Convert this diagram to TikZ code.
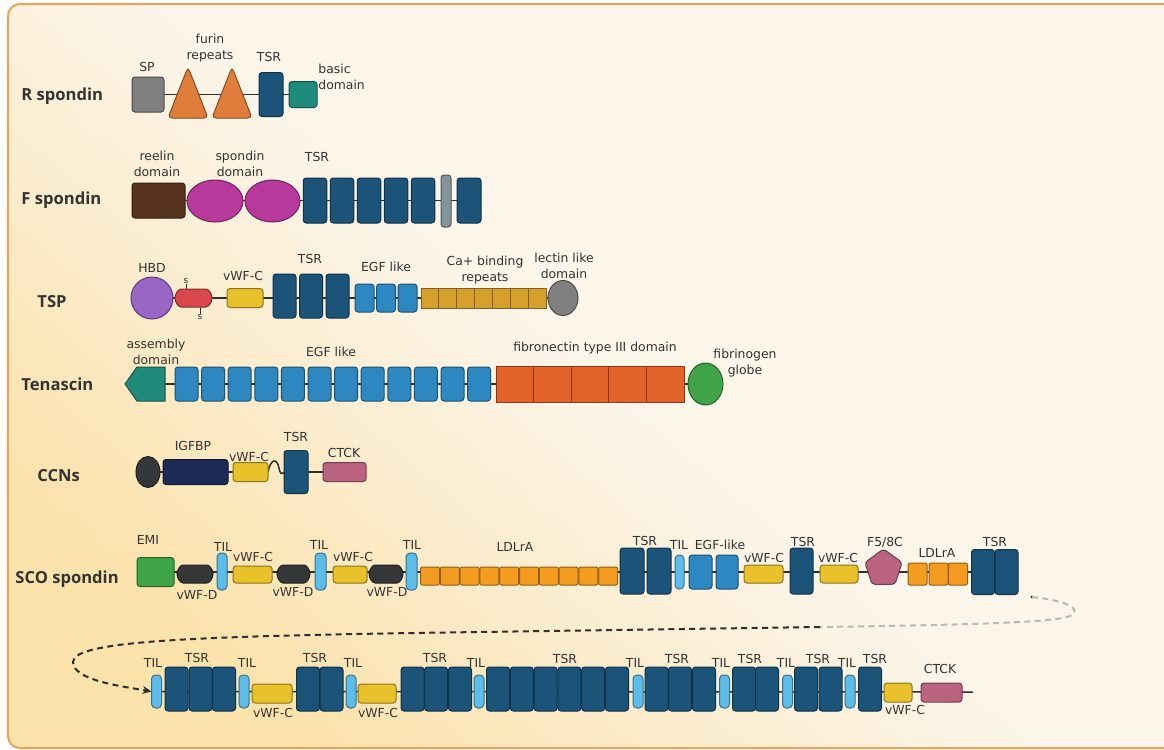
\documentclass[tikz,border=0pt]{standalone}
\usepackage{fontspec}
\newfontfamily\labfont{DejaVu Sans}
\newfontfamily\rowfont{Open Sans}
\usetikzlibrary{shapes.geometric,shapes.misc,shapes.symbols,arrows.meta}
\pgfdeclarelayer{back}
\pgfdeclarelayer{bg}
\pgfsetlayers{back,bg,main}

\definecolor{txt}{HTML}{333333}
\definecolor{bbgray}{HTML}{2E2E2E}
\definecolor{tsrblue}{HTML}{1B5478}
\definecolor{egfblue}{HTML}{2D87C0}
\definecolor{tilblue}{HTML}{5CBDEB}
\definecolor{vwfyellow}{HTML}{E9C22B}
\definecolor{vwfdark}{HTML}{343638}
\definecolor{ldlorange}{HTML}{F39C1F}
\definecolor{fnorange}{HTML}{E4632A}
\definecolor{furinorange}{HTML}{E07D3A}
\definecolor{spgray}{HTML}{7F7F7F}
\definecolor{dteal}{HTML}{1F8B7B}
\definecolor{reelinbrown}{HTML}{57321E}
\definecolor{spmagenta}{HTML}{B8399C}
\definecolor{barslate}{HTML}{85949A}
\definecolor{hbdpurple}{HTML}{9A66C6}
\definecolor{pillred}{HTML}{D8474B}
\definecolor{cagold}{HTML}{D5A02B}
\definecolor{lectingray}{HTML}{808080}
\definecolor{globegreen}{HTML}{3FA447}
\definecolor{igfnavy}{HTML}{1C2B55}
\definecolor{ctckpink}{HTML}{BA6482}
\definecolor{framebg}{HTML}{FBF5EA}
\definecolor{framewarm}{HTML}{FCE2AB}
\definecolor{frameline}{HTML}{EBA35C}

\begin{document}
\begin{tikzpicture}[x=0.5pt, y=-0.5pt,
    dom/.style={draw=#1!60!black, fill=#1, line width=0.5pt, rounded corners=1.5pt, inner sep=0pt, outer sep=0pt},
    sz/.style 2 args={minimum width=#1*0.5pt, minimum height=#2*0.5pt},
    tsr/.style={dom=tsrblue},
    egf/.style={dom=egfblue},
    til/.style={dom=tilblue, rounded corners=2pt},
    vwfc/.style={dom=vwfyellow},
    vwfd/.style={dom=vwfdark, rounded rectangle},
    ldl/.style={dom=ldlorange, rounded corners=1pt},
    furin/.style={draw=furinorange!60!black, fill=furinorange, line width=0.5pt, rounded corners=2pt},
    lab/.style={font=\labfont\fontsize{6.2}{8}\selectfont, text=txt, inner sep=0pt, align=center},
    row/.style={font=\rowfont\bfseries\fontsize{8.3}{10}\selectfont, text=txt, anchor=base west, inner sep=0pt},
    backbone/.style={draw=bbgray, line width=0.75pt},
    flow/.style={line width=1pt, dash pattern=on 3pt off 2.2pt}]

    \useasboundingbox (0,0) rectangle (1164,750);

    % Frame
    \begin{pgfonlayer}{back}
        \fill[white] (0,0) rectangle (1164,750);
        \shade[rounded corners=6pt, top color=framebg, bottom color=framewarm, middle color=framebg, shading angle=-40] (8,4) rectangle (1190,748);
        \draw[frameline, line width=1pt, rounded corners=6pt] (8,4) rectangle (1190,748);
    \end{pgfonlayer}

    % R spondin
    \node[row] (nR) at (21,100) {R spondin};
    \node[dom=spgray, sz={32}{35}] (rsp) at (148,94.5) {};
    \filldraw[furin] (168,118) -- (188,67) -- (208,118) -- cycle;
    \filldraw[furin] (212,118) -- (232,67) -- (252,118) -- cycle;
    \node[tsr, sz={24}{44}] (rtsr) at (271,94.5) {};
    \node[dom=dteal, sz={28}{26}] (rbas) at (303,94.5) {};
    \node[lab] (lsp) at (147,67) {SP};
    \node[lab] (lfur) at (210,48) {furin\\repeats};
    \node[lab] (lrts) at (269,57) {TSR};
    \node[lab, align=left, anchor=west] (lbas) at (318,76.5) {basic\\domain};

    % F spondin
    \node[row] (nF) at (21,204) {F spondin};
    \node[dom=reelinbrown, sz={53}{35}] (frl) at (158.5,200.5) {};
    \node[dom=spmagenta, ellipse, sz={56}{42}] (fsp1) at (215,201) {};
    \node[dom=spmagenta, ellipse, sz={55}{42}] (fsp2) at (272.5,201) {};
    \foreach \i in {0,...,4}
        \node[tsr, sz={23.5}{45}] (fts\i) at ({315+27*\i},200.5) {};
    \node[dom=barslate, sz={10}{52}] (fbar) at (446,201) {};
    \node[tsr, sz={24}{45}] (fts5) at (469,200.5) {};
    \node[lab] (lrel) at (157,164) {reelin\\domain};
    \node[lab] (lspd) at (240,164) {spondin\\domain};
    \node[lab] (lfts) at (317,157) {TSR};

    % TSP
    \node[row] (nT) at (37,307) {TSP};
    \node[dom=hbdpurple, circle, sz={42}{42}] (thbd) at (152,298) {};
    \node[dom=pillred, rounded rectangle, sz={37}{18}] (tpill) at (193.5,298) {};
    \node[vwfc, sz={36}{19}] (tvc) at (245,298) {};
    \foreach \i in {0,1,2}
        \node[tsr, sz={23}{44}] (tts\i) at ({284.5+26.5*\i},296) {};
    \foreach \i in {0,1,2}
        \node[egf, sz={19}{28}] (teg\i) at ({364.5+21.5*\i},298) {};
    \foreach \i in {0,...,6}
        \node[dom=cagold, sharp corners, sz={17.86}{20}] (tca\i) at ({429.93+17.86*\i},298) {};
    \node[dom=lectingray, ellipse, sz={30}{35}] (tlec) at (563,298) {};
    \node[lab] (lhbd) at (152,268) {HBD};
    \node[lab, font=\labfont\fontsize{4.5}{4.5}\selectfont] (ts1) at (186,281) {s};
    \node[lab, font=\labfont\fontsize{4.5}{4.5}\selectfont] (ts2) at (200,317) {s};
    \node[lab] (ltvc) at (243,276) {vWF-C};
    \node[lab] (ltts) at (310,259) {TSR};
    \node[lab] (lteg) at (386,267) {EGF like};
    \node[lab] (lca) at (485,270.5) {Ca+ binding\\repeats};
    \node[lab] (llec) at (564,265.5) {lectin like\\domain};

    % Tenascin
    \node[row] (nTn) at (21,390) {Tenascin};
    \node[dom=dteal, signal, signal to=west, signal pointer angle=110, sharp corners, sz={40}{34}] (nasm) at (151,384) {};
    \foreach \i in {0,...,11}
        \node[egf, sz={23}{34}] (neg\i) at ({186.5+26.6*\i},384) {};
    \foreach \i in {0,...,4}
        \node[dom=fnorange, sharp corners, sz={37.6}{36}] (nfn\i) at ({514.8+37.6*\i},384) {};
    \node[dom=globegreen, ellipse, sz={35}{42}] (nglb) at (705.5,384) {};
    \node[lab] (lasm) at (156,351.5) {assembly\\domain};
    \node[lab] (lneg) at (331,352) {EGF like};
    \node[lab] (lfn) at (595,348) {fibronectin type III domain};
    \node[lab] (lglb) at (745,363) {fibrinogen\\globe};

    % CCNs
    \node[row] (nC) at (37,481) {CCNs};
    \node[dom=vwfdark, ellipse, sz={24}{31}] (cdot) at (148,472) {};
    \node[dom=igfnavy, sz={65}{25}] (cigf) at (195.5,472) {};
    \node[vwfc, sz={35}{19}] (cvc) at (250.5,472) {};
    \node[tsr, sz={24}{43}] (ctsr) at (296,472) {};
    \node[dom=ctckpink, sz={43}{19}] (cctck) at (344.5,472) {};
    \node[lab] (lcig) at (193,446) {IGFBP};
    \node[lab] (lcvc) at (249,457) {vWF-C};
    \node[lab] (lcts) at (296,437) {TSR};
    \node[lab] (lcct) at (344,453) {CTCK};

    % SCO spondin, first line
    \node[row] (nS) at (15,583) {SCO spondin};
    \node[dom=globegreen, sz={37}{29}] (semi) at (155.5,572) {};
    \node[vwfd, sz={36}{18}] (sd1) at (195,574) {};
    \node[til, sz={10}{37}] (st1) at (222,571.5) {};
    \node[vwfc, sz={39}{17}] (sc1) at (252.5,574.5) {};
    \node[vwfd, sz={33}{18}] (sd2) at (293.5,574) {};
    \node[til, sz={11}{37}] (st2) at (320.5,571.5) {};
    \node[vwfc, sz={34}{17}] (sc2) at (350,574.5) {};
    \node[vwfd, sz={34}{18}] (sd3) at (386,574) {};
    \node[til, sz={11}{37}] (st3) at (411.5,571.5) {};
    \foreach \i in {0,...,9}
        \node[ldl, sz={19}{18}] (sl\i) at ({430+19.8*\i},576) {};
    \node[tsr, sz={24}{46}] (sr1) at (632,571) {};
    \node[tsr, sz={24}{46}] (sr2) at (659,571) {};
    \node[til, sz={9}{34}] (st4) at (679.5,572) {};
    \node[egf, sz={23}{34}] (se1) at (700.5,572) {};
    \node[egf, sz={22}{34}] (se2) at (727,572) {};
    \node[vwfc, sz={39}{18}] (sc3) at (763.5,574) {};
    \node[tsr, sz={23}{46}] (sr3) at (801.5,571) {};
    \node[vwfc, sz={38}{18}] (sc4) at (839,574) {};
    \node[dom=ctckpink, regular polygon, regular polygon sides=5, minimum size=19.5pt] (sf5) at (883.5,568.5) {};
    \node[ldl, sz={19}{22}] (sm1) at (917.5,574) {};
    \node[ldl, sz={19}{22}] (sm2) at (938.5,574) {};
    \node[ldl, sz={19}{22}] (sm3) at (958,574) {};
    \node[tsr, sz={23}{45}] (sr4) at (983,572) {};
    \node[tsr, sz={23}{45}] (sr5) at (1006.5,572) {};
    \foreach \x/\y/\t [count=\k] in {148/540/EMI, 223/547/TIL, 253/557/vWF-C, 197/595/vWF-D,
        319/545/TIL, 293/592/vWF-D, 353/557/vWF-C, 412/545/TIL, 387/592/vWF-D, 515/547/LDLrA,
        645/541/TSR, 679/545/TIL, 720/545/EGF-like, 764/558/vWF-C, 803/542/TSR, 838/558/vWF-C,
        937/553/LDLrA, 995/542/TSR}
        \node[lab] (ls\k) at (\x,\y) {\t};
    \node[lab] (lsf5) at (885,542) {F5/8C};

    % SCO spondin, second line
    \foreach \x [count=\k] in {156.5,244,351,479,638,724.5,787.5,850}
        \node[til, sz={10}{33}] (bt\k) at (\x,691.5) {};
    \foreach \x [count=\k] in {176.5,200.5,224,308,331.5,412.5,436,460,498,521.8,545.6,569.4,593.2,617,
        656.5,680,704,744,767,806,830.5,870}
        \node[tsr, sz={23}{44}] (br\k) at (\x,689) {};
    \node[vwfc, sz={40}{19}] (bc1) at (272,693.5) {};
    \node[vwfc, sz={38}{19}] (bc2) at (377,693.5) {};
    \node[vwfc, sz={28}{19}] (bc3) at (898,692.5) {};
    \node[dom=ctckpink, sz={41}{19}] (bctck) at (941.5,692.5) {};
    \coordinate (bend) at (973,692);
    \foreach \x/\y/\t [count=\k] in {153/663/TIL, 197/658/TSR, 247/663/TIL, 273/713/vWF-C, 315/658/TSR,
        353/663/TIL, 378/713/vWF-C, 435/658/TSR, 476/663/TIL, 565/659/TSR, 635/663/TIL, 677/659/TSR,
        721/663/TIL, 750/659/TSR, 786/663/TIL, 818/659/TSR, 847/663/TIL, 875/659/TSR, 940/669/CTCK,
        905/710/vWF-C}
        \node[lab] (lb\k) at (\x,\y) {\t};

    % Continuation arrow
    \coordinate (sdot) at (1032,597);
    \coordinate (sfade) at (820,627);
    \fill[bbgray] (sdot) circle (0.8pt);
    \draw[flow, black!28] (sdot) .. controls (1060,600) and (1078,606) .. (1074,613)
        .. controls (1070,620) and (1040,624) .. (sfade);
    \draw[flow, bbgray, -{Stealth[length=4.5pt,width=4pt]}] (sfade) -- (480,632)
        .. controls (200,636) and (73,640) .. (73,662)
        .. controls (73,680) and (120,686) .. (bt1.west);

    % Backbones
    \begin{pgfonlayer}{bg}
        \draw[backbone] (rsp.center) -- (rbas.center);
        \draw[backbone] (frl.center) -- (fts5.center);
        \draw[backbone] (thbd.center) -- (tlec.center);
        \draw[backbone] (nasm.center) -- (nglb.center);
        \draw[backbone] (cdot.center) -- (cvc.center);
        \draw[backbone] (cvc.east) .. controls (271,458) and (277,458) .. (279,468)
            .. controls (280,474) and (282,475) .. (ctsr.west);
        \draw[backbone] (ctsr.center) -- (cctck.center);
        \draw[backbone] (semi.center) -- (sr5.center);
        \draw[backbone] (bt1.center) -- (bend);
        \draw[backbone, line width=0.4pt] (ts1) -- (ts1 |- tpill.north);
        \draw[backbone, line width=0.4pt] (ts2) -- (ts2 |- tpill.south);
    \end{pgfonlayer}
\end{tikzpicture}
\end{document}
